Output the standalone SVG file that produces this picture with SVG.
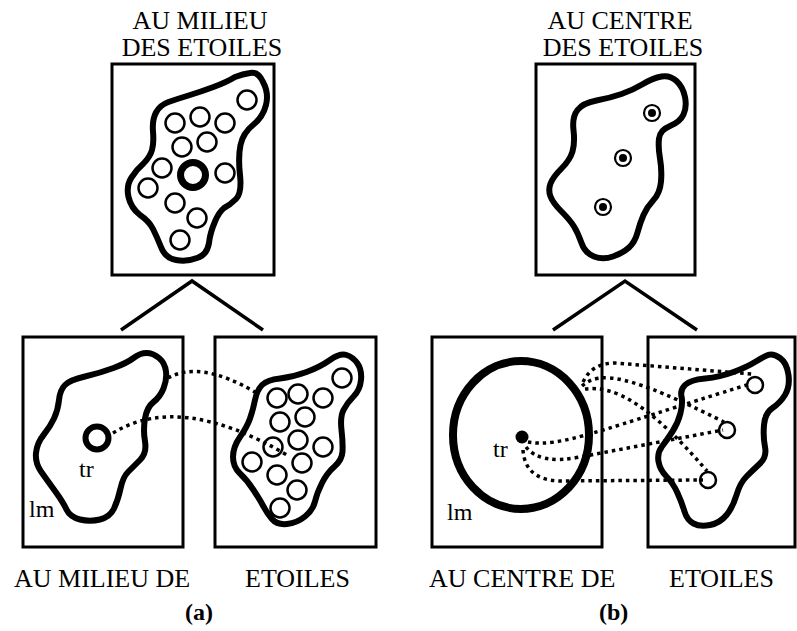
<svg xmlns="http://www.w3.org/2000/svg" width="797" height="631" viewBox="0 0 797 631">
<style>
.frame{fill:#fff;stroke:#000;stroke-width:3}
.blob{fill:none;stroke:#000;stroke-width:6;stroke-linejoin:round}
.sc{fill:none;stroke:#000;stroke-width:2.5}
.ring{fill:none;stroke:#000;stroke-width:2.2}
.lab{font-size:26px;fill:#000}
.sm{font-size:24px;fill:#000}
.cap{font-size:24px;font-weight:bold;fill:#000}
.tree{fill:none;stroke:#000;stroke-width:3.5}
.dot{fill:none;stroke:#000;stroke-width:3.5;stroke-dasharray:3.5 4}
</style>
<rect width="797" height="631" fill="#fff"/>

<g id="top-a">
<rect class="frame" x="112" y="64" width="162" height="211"/>
<path class="blob" d="M250,73 Q258,71 263,82 Q269,93 266,105 Q263,117 253,125 Q243,133 240.5,145 Q238,157 240,175 Q242,193 236,199 Q230,205 224,208 Q219,212 215,221.5 Q210,233 209,243 Q207,255 197,258 Q187,262 176,260 Q165,258 161,247 Q157,237 153,229 Q149,221 140,215 Q131,208 128.5,197 Q126,186 131.5,177.5 Q137,169 143.5,163.5 Q150,157 152,150 Q154,143 153,131.5 Q152,120 156,112.5 Q160,105 168.5,102 Q177,99 188.5,95.5 Q200,92 213.5,87 Q227,82 235,77 Q243,74 250,73 Z"/>
<circle class="sc" cx="247" cy="100" r="9.5"/>
<circle class="sc" cx="175" cy="123" r="9.5"/>
<circle class="sc" cx="200" cy="117" r="9.5"/>
<circle class="sc" cx="225" cy="123" r="9.5"/>
<circle class="sc" cx="182" cy="147" r="9.5"/>
<circle class="sc" cx="207" cy="142" r="9.5"/>
<circle class="sc" cx="162" cy="168" r="9.5"/>
<circle class="sc" cx="225" cy="173" r="9.5"/>
<circle class="sc" cx="148" cy="188" r="9.5"/>
<circle class="sc" cx="175" cy="203" r="9.5"/>
<circle class="sc" cx="197" cy="218" r="9.5"/>
<circle class="sc" cx="180" cy="240" r="9.5"/>
<circle cx="193" cy="175" r="12.5" fill="none" stroke="#000" stroke-width="7"/>
<text class="lab" font-family="Liberation Serif, serif" x="200" y="29" text-anchor="middle">AU MILIEU</text>
<text class="lab" font-family="Liberation Serif, serif" x="202" y="56" text-anchor="middle">DES ETOILES</text>
</g>

<g id="top-b">
<rect class="frame" x="536" y="64" width="159" height="211"/>
<path class="blob" d="M661.5,76.5 Q670,75 676.5,81 Q683,87 685,97 Q687,107 683.5,114.5 Q680,122 670,126 Q660,130 659,138.5 Q658,147 660,158.5 Q662,170 661,181.5 Q660,193 653.5,200 Q647,207 643.5,215 Q640,223 637.5,232.5 Q635,242 629,247.5 Q623,253 613,256.5 Q603,260 594,256.5 Q585,253 581.5,243 Q578,233 574,226.5 Q570,220 561.5,211.5 Q553,203 550.5,196.5 Q548,190 550.5,183.5 Q553,177 561.5,168.5 Q570,160 572.5,151.5 Q575,143 573.5,130 Q572,117 577.5,110 Q583,103 596.5,100.5 Q610,98 621.5,94 Q633,90 643,84 Q653,78 661.5,76.5 Z"/>
<circle class="ring" cx="652" cy="113" r="8"/><circle cx="652" cy="113" r="4"/>
<circle class="ring" cx="623" cy="158" r="8"/><circle cx="623" cy="158" r="4"/>
<circle class="ring" cx="603" cy="207" r="8"/><circle cx="603" cy="207" r="4"/>
<text class="lab" font-family="Liberation Serif, serif" x="620" y="29" text-anchor="middle">AU CENTRE</text>
<text class="lab" font-family="Liberation Serif, serif" x="623" y="56" text-anchor="middle">DES ETOILES</text>
</g>

<g id="box-a1">
<rect class="frame" x="23" y="337" width="160" height="210"/>
<path class="blob" d="M146.5,353 Q153,353 159,358 Q165,363 166,371.5 Q167,380 163.5,388.5 Q160,397 153.5,402 Q147,407 145,418.5 Q143,430 145,441.5 Q147,453 140,460 Q133,467 128,472 Q123,477 120.5,488.5 Q118,500 114,508.5 Q110,517 100,519.5 Q90,522 80,519.5 Q70,517 66.5,509.5 Q63,502 55,491 Q47,480 41,471.5 Q35,463 36,453 Q37,443 43.5,435 Q50,427 54,418.5 Q58,410 59,400 Q60,390 65,385 Q70,380 85,376.5 Q100,373 113.5,368 Q127,363 133.5,358 Q140,353 146.5,353 Z"/>
<circle cx="97" cy="438" r="11.5" fill="none" stroke="#000" stroke-width="6"/>
<text class="sm" font-family="Liberation Serif, serif" x="79" y="477">tr</text>
<text class="sm" font-family="Liberation Serif, serif" x="29" y="517">lm</text>
<text class="lab" font-family="Liberation Serif, serif" x="14" y="587">AU MILIEU DE</text>
</g>

<g id="box-a2">
<rect class="frame" x="215" y="337" width="161" height="210"/>
<path class="blob" d="M346.5,355 Q353,357 357.5,363.5 Q362,370 361,380 Q360,390 353.5,396.5 Q347,403 343.5,410 Q340,417 341.5,430 Q343,443 342.5,451.5 Q342,460 334.5,466.5 Q327,473 322,483 Q317,493 315,501.5 Q313,510 305,516.5 Q297,523 287,524 Q277,525 272,519 Q267,513 263.5,506.5 Q260,500 253.5,490 Q247,480 240,473.5 Q233,467 233,457 Q233,447 240,437 Q247,427 250,418.5 Q253,410 255,400 Q257,390 262,385 Q267,380 280,378.5 Q293,377 306.5,372 Q320,367 330,360 Q340,353 346.5,355 Z"/>
<circle class="sc" cx="342" cy="378" r="9.5"/>
<circle class="sc" cx="277" cy="398" r="9.5"/>
<circle class="sc" cx="298" cy="394" r="9.5"/>
<circle class="sc" cx="323" cy="398" r="9.5"/>
<circle class="sc" cx="280" cy="422" r="9.5"/>
<circle class="sc" cx="305" cy="417" r="9.5"/>
<circle class="sc" cx="273" cy="447" r="9.5"/>
<circle class="sc" cx="298" cy="440" r="9.5"/>
<circle class="sc" cx="323" cy="447" r="9.5"/>
<circle class="sc" cx="252" cy="462" r="9.5"/>
<circle class="sc" cx="302" cy="463" r="9.5"/>
<circle class="sc" cx="277" cy="475" r="9.5"/>
<circle class="sc" cx="297" cy="490" r="9.5"/>
<circle class="sc" cx="280" cy="508" r="9.5"/>
<text class="lab" font-family="Liberation Serif, serif" x="245" y="587">ETOILES</text>
</g>

<g id="box-b1">
<rect class="frame" x="432" y="337" width="170" height="210"/>
<ellipse cx="521" cy="435" rx="68" ry="74" fill="none" stroke="#000" stroke-width="8"/>
<circle cx="522" cy="437" r="6.5"/>
<text class="sm" font-family="Liberation Serif, serif" x="493" y="457">tr</text>
<text class="sm" font-family="Liberation Serif, serif" x="447" y="520">lm</text>
<text class="lab" font-family="Liberation Serif, serif" x="429" y="587">AU CENTRE DE</text>
</g>

<g id="box-b2">
<rect class="frame" x="648" y="337" width="147" height="210"/>
<path class="blob" d="M768,355 Q773,353 780,358 Q787,363 788.5,375 Q790,387 785,395 Q780,403 772.5,408 Q765,413 764,425 Q763,437 765,447 Q767,457 760,463.5 Q753,470 746.5,476.5 Q740,483 736.5,495 Q733,507 726.5,515 Q720,523 710,525 Q700,527 693.5,523.5 Q687,520 684.5,511.5 Q682,503 677.5,493 Q673,483 666.5,476.5 Q660,470 658.5,461.5 Q657,453 662,446.5 Q667,440 672.5,431.5 Q678,423 680.5,413 Q683,403 681.5,396.5 Q680,390 685,385 Q690,380 705,378.5 Q720,377 733.5,372 Q747,367 755,362 Q763,357 768,355 Z"/>
<circle class="sc" cx="755" cy="385" r="8" stroke-width="2.2"/>
<circle class="sc" cx="727" cy="430" r="8" stroke-width="2.2"/>
<circle class="sc" cx="708" cy="480" r="8" stroke-width="2.2"/>
<text class="lab" font-family="Liberation Serif, serif" x="669" y="587">ETOILES</text>
</g>

<g id="connectors">
<polyline class="tree" points="121,330 192,281 263,330"/>
<polyline class="tree" points="553,330 625,281 697,330"/>
<path class="dot" d="M168,378 Q200,360 255,392"/>
<path class="dot" d="M113,433 Q180,392 287,455"/>
<path class="dot" d="M583,382 Q592,363 615,363 L752,374"/>
<path class="dot" d="M582,386 C600,370 630,375 724,422"/>
<path class="dot" d="M585,389 C615,385 650,405 707,471"/>
<path class="dot" d="M528,442 C560,448 600,430 750,384"/>
<path class="dot" d="M526,447 Q540,465 580,457 L723,430"/>
<path class="dot" d="M523,450 Q525,480 560,481 L703,480"/>
</g>

<text class="cap" font-family="Liberation Serif, serif" x="185" y="620">(a)</text>
<text class="cap" font-family="Liberation Serif, serif" x="599" y="620">(b)</text>
</svg>
